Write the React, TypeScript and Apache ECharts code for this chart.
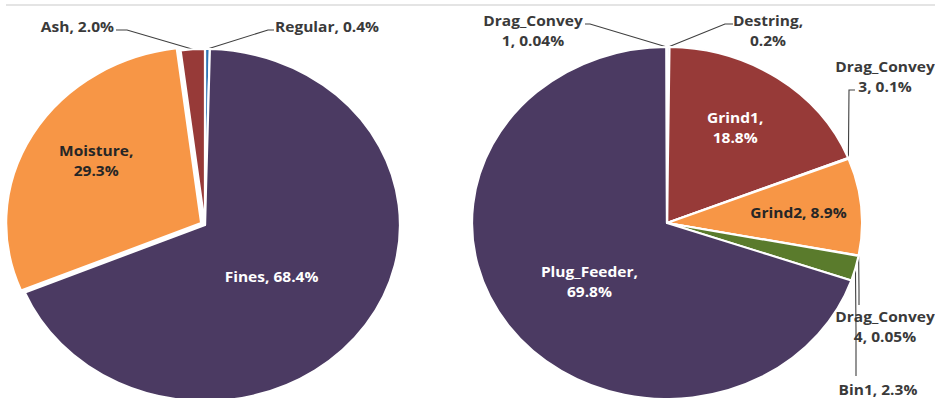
import React, { useEffect, useRef } from "react";
import * as echarts from "echarts";

// horizontal stretch of the reference picture
const S = 1.108;
const W = Math.round(935 / S);
const H = 398;

const leftNames = ["Regular", "Fines", "Moisture", "Ash"];
const leftValues = [0.4, 68.4, 29.3, 2.0];
const leftLabels = ["Regular, 0.4%", "Fines, 68.4%", "Moisture,\n29.3%", "Ash, 2.0%"];
const leftColors = ["#2E75B6", "#4B3A62", "#F79646", "#973A38"];

const rightNames = ["Destring", "Grind1", "Drag_Convey3", "Grind2", "Drag_Convey4", "Bin1", "Plug_Feeder", "Drag_Convey1"];
const rightValues = [0.2, 18.8, 0.1, 8.9, 0.05, 2.3, 69.8, 0.04];
const rightLabels = [
  "Destring,\n0.2%",
  "Grind1,\n18.8%",
  "Drag_Convey\n3, 0.1%",
  "Grind2, 8.9%",
  "Drag_Convey\n4, 0.05%",
  "Bin1, 2.3%",
  "Plug_Feeder,\n69.8%",
  "Drag_Convey\n1, 0.04%",
];
const rightColors = ["#4F81BD", "#973A38", "#4F81BD", "#F79646", "#4F81BD", "#5A7B2C", "#4B3A62", "#4F81BD"];

type Lay = {
  inside?: [number, number];
  color?: string;
  pos?: [number, number];
  align?: string;
  line?: [number, number][];
};

// label placement (reference picture coordinates)
const leftLayout: Record<string, Lay> = {
  Regular: { pos: [275, 26], align: "left", line: [[268, 30], [274, 30]] },
  Fines: { inside: [-15, 0], color: "#ffffff" },
  Moisture: { inside: [-16, -17], color: "#262626" },
  Ash: { pos: [114, 26], align: "right", line: [[127, 30], [116, 30]] },
};
const rightLayout: Record<string, Lay> = {
  Destring: { pos: [768, 30], align: "center", line: [[725, 24], [733, 24]] },
  Grind1: { inside: [10, -21], color: "#ffffff" },
  Drag_Convey3: { pos: [885, 76], align: "center", line: [[849, 90], [855, 90]] },
  Grind2: { inside: [28, -2], color: "#262626" },
  Drag_Convey4: { pos: [885, 326], align: "center", line: [[859, 290], [859, 305]] },
  Bin1: { pos: [878, 389], align: "center", line: [[856, 330], [856, 376]] },
  Plug_Feeder: { inside: [4, 5], color: "#ffffff" },
  Drag_Convey1: { pos: [533, 30], align: "center", line: [[590, 24], [585, 24]] },
};

const FONT = "'Open Sans', 'Noto Sans', sans-serif";

function buildData(names: string[], values: number[], labels: string[], colors: string[], lay: Record<string, Lay>) {
  return names.map((n, i) => {
    const l = lay[n];
    const inside = !!l.inside;
    return {
      name: n,
      value: values[i],
      itemStyle: { color: colors[i] },
      label: {
        show: true,
        position: inside ? "inside" : "outside",
        formatter: labels[i],
        color: inside ? l.color : "#3a3a3a",
      },
      labelLine: { show: !inside },
    };
  });
}

function makeLayout(names: string[], lay: Record<string, Lay>) {
  return (p: any) => {
    const l = lay[names[p.dataIndex]];
    if (!l) return {};
    if (l.inside) return { dx: l.inside[0], dy: l.inside[1] };
    const pts = p.labelLinePoints;
    const first = pts && pts.length ? pts[0] : null;
    const res: any = {
      x: l.pos![0] / S,
      y: l.pos![1],
      align: l.align,
      verticalAlign: "middle",
    };
    if (first && l.line) {
      res.labelLinePoints = [first, ...l.line.map(([x, y]) => [x / S, y])];
    }
    return res;
  };
}

const commonSeries = {
  type: "pie",
  radius: 176,
  startAngle: 90,
  clockwise: true,
  avoidLabelOverlap: false,
  silent: true,
  emphasis: { disabled: true },
  itemStyle: { borderColor: "#ffffff", borderWidth: 2 },
  label: {
    fontFamily: FONT,
    fontSize: 14,
    fontWeight: "bold",
    lineHeight: 20,
    align: "center",
  },
  labelLine: {
    lineStyle: { color: "#404040", width: 1 },
    length: 10,
    length2: 10,
  },
};

export default function App() {
  const ref = useRef<HTMLDivElement>(null);
  useEffect(() => {
    if (!ref.current) return;
    const chart = echarts.init(ref.current, undefined, { renderer: "svg" });
    const leftData: any[] = buildData(leftNames, leftValues, leftLabels, leftColors, leftLayout);
    leftData[2].selected = true;
    chart.setOption({
      animation: false,
      backgroundColor: "#ffffff",
      graphic: [
        {
          type: "line",
          shape: { x1: 6 / S, y1: 5, x2: W, y2: 5 },
          style: { stroke: "#e4e4e4", lineWidth: 2 },
          silent: true,
        },
      ],
      series: [
        {
          ...commonSeries,
          name: "left",
          center: [185, 225],
          selectedMode: "single",
          selectedOffset: 4,
          data: leftData,
          labelLayout: makeLayout(leftNames, leftLayout),
        },
        {
          ...commonSeries,
          name: "right",
          center: [602, 223],
          data: buildData(rightNames, rightValues, rightLabels, rightColors, rightLayout),
          labelLayout: makeLayout(rightNames, rightLayout),
        },
      ],
    });
    return () => chart.dispose();
  }, []);
  return (
    <div
      style={{
        position: "fixed",
        left: 0,
        top: 0,
        width: 935,
        height: H,
        overflow: "hidden",
        background: "#ffffff",
      }}
    >
      <div
        ref={ref}
        style={{
          width: W,
          height: H,
          transform: `scaleX(${S})`,
          transformOrigin: "0 0",
        }}
      />
    </div>
  );
}
